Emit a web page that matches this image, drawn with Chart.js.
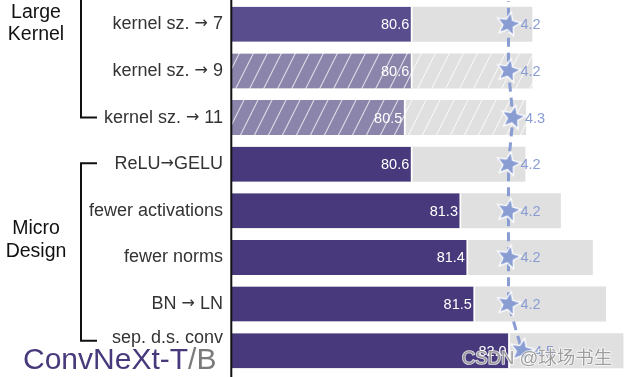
<!DOCTYPE html>
<html><head><meta charset="utf-8">
<script src="https://cdn.jsdelivr.net/npm/chart.js@4/dist/chart.umd.min.js"></script>
<style>html,body{margin:0;padding:0;background:#fff;overflow:hidden}</style>
</head><body>
<canvas id="c" width="629" height="377"></canvas>
<script>
// ---- data ----
const categories = ["kernel sz. \u2192 7","kernel sz. \u2192 9","kernel sz. \u2192 11","ReLU\u2192GELU","fewer activations","fewer norms","BN \u2192 LN","sep. d.s. conv"];
const groupNames = [["Large","Kernel"],["Micro","Design"]];
const accTiny = [80.6, 80.6, 80.5, 80.6, 81.3, 81.4, 81.5, 82.0];
const accBase = [82.32, 82.32, 82.23, 82.22, 82.73, 83.19, 83.38, 83.63];
const gflops = [4.2, 4.2, 4.3, 4.2, 4.2, 4.2, 4.2, 4.5];
const gflopsTrendTop = 4.2;   // dashed trend continuing above first row
const titleMain = "ConvNeXt-T";
const titleSub = "/B";
const watermark = "CSDN @\u7403\u573a\u4e66\u751f";

// ---- styles ----
const FONT = '"Liberation Sans", Arial, "Noto Sans CJK SC", sans-serif';
const ARROW_FONT = '"DejaVu Sans", sans-serif';
const PURPLE = '#47397b', PURPLE_HI = '#594d8d', PURPLE_HATCH = '#8b84ab';
const GREY = '#e0e0e0', STAR = '#8a9dd3';
const hatchedRows = [1, 2];

function hatch(bg) {
  const c = document.createElement('canvas'); c.width = 14; c.height = 28;
  const g = c.getContext('2d');
  g.fillStyle = bg; g.fillRect(0, 0, 14, 28);
  g.strokeStyle = 'rgba(255,255,255,0.7)'; g.lineWidth = 1.1;
  for (const dx of [-14, 0, 14]) { g.beginPath(); g.moveTo(dx, 28); g.lineTo(dx + 14, 0); g.stroke(); }
  return g.createPattern(c, 'repeat');
}
function starImage() {
  const c = document.createElement('canvas'); c.width = 30; c.height = 30;
  const g = c.getContext('2d');
  g.beginPath();
  for (let k = 0; k < 10; k++) {
    const r = k % 2 ? 5.6 : 12.5;
    const a = -Math.PI / 2 + k * Math.PI / 5;
    const px = 15 + r * Math.cos(a), py = 15 + r * Math.sin(a);
    k ? g.lineTo(px, py) : g.moveTo(px, py);
  }
  g.closePath();
  g.fillStyle = STAR; g.fill();
  g.strokeStyle = '#fff'; g.lineWidth = 1.3; g.stroke();
  return c;
}
const purpleHatch = hatch(PURPLE_HATCH), greyHatch = hatch(GREY), star = starImage();

const trendData = [{x: gflopsTrendTop, y: -1}].concat(gflops.map((v, i) => ({x: v, y: i})));

function drawLabel(ctx, text, right, y) {
  const parts = text.split('\u2192');
  const fText = '18px ' + FONT, fArr = '16px ' + ARROW_FONT;
  let total = 0;
  parts.forEach((p, k) => {
    ctx.font = fText; total += ctx.measureText(p).width;
    if (k < parts.length - 1) { ctx.font = fArr; total += ctx.measureText('\u2192').width; }
  });
  let x = right - total;
  ctx.textAlign = 'left';
  parts.forEach((p, k) => {
    ctx.font = fText; ctx.fillText(p, x, y); x += ctx.measureText(p).width;
    if (k < parts.length - 1) { ctx.font = fArr; ctx.fillText('\u2192', x, y); x += ctx.measureText('\u2192').width; }
  });
}

const decorations = {
  id: 'decorations',
  afterDatasetsDraw(chart) {
    const ctx = chart.ctx;
    ctx.save();
    const mT = chart.getDatasetMeta(1);
    ctx.font = '14.5px ' + FONT; ctx.fillStyle = '#fff';
    ctx.textAlign = 'right'; ctx.textBaseline = 'middle';
    mT.data.forEach((b, i) => ctx.fillText(accTiny[i].toFixed(1), b.x - 3.5, b.y + 1));
    const mL = chart.getDatasetMeta(0);
    ctx.fillStyle = STAR; ctx.textAlign = 'left';
    mL.data.forEach((p, i) => { if (i > 0) ctx.fillText(gflops[i - 1].toFixed(1), p.x + 12, p.y + 1); });
    ctx.restore();
  },
  afterDraw(chart) {
    const ctx = chart.ctx, ys = chart.scales.y;
    ctx.save();
    ctx.strokeStyle = '#111'; ctx.lineWidth = 2;
    ctx.beginPath(); ctx.moveTo(231.3, 0); ctx.lineTo(231.3, 377); ctx.stroke();
    ctx.fillStyle = '#333'; ctx.textBaseline = 'middle';
    const ly = i => ys.getPixelForValue(i) + (i === categories.length - 1 ? -13 : 0);
    categories.forEach((c, i) => drawLabel(ctx, c, 223, ly(i)));
    ctx.strokeStyle = '#111'; ctx.lineWidth = 2;
    ctx.beginPath();
    ctx.moveTo(81, -2); ctx.lineTo(81, ly(2)); ctx.lineTo(97, ly(2));
    ctx.moveTo(97, ly(3) - 1); ctx.lineTo(81, ly(3) - 1); ctx.lineTo(81, ly(7) + 3); ctx.lineTo(97, ly(7) + 3);
    ctx.stroke();
    ctx.font = '19.5px ' + FONT; ctx.fillStyle = '#111'; ctx.textAlign = 'center';
    ctx.fillText(groupNames[0][0], 36, 13); ctx.fillText(groupNames[0][1], 36, 35);
    ctx.fillText(groupNames[1][0], 36, 229); ctx.fillText(groupNames[1][1], 36, 252);
    ctx.font = '30px ' + FONT; ctx.textAlign = 'left'; ctx.textBaseline = 'alphabetic';
    ctx.fillStyle = PURPLE; ctx.fillText(titleMain, 23, 369);
    const w = ctx.measureText(titleMain).width;
    ctx.fillStyle = '#7a7a7a'; ctx.fillText(titleSub, 23 + w, 369);
    ctx.font = '18.5px ' + FONT;
    ctx.lineWidth = 1.6; ctx.strokeStyle = 'rgba(255,255,255,0.85)'; ctx.lineJoin = 'round';
    ctx.strokeText(watermark, 462, 364);
    ctx.fillStyle = 'rgba(135,135,135,0.8)'; ctx.fillText(watermark, 462, 364);
    ctx.restore();
  }
};

new Chart(document.getElementById('c'), {
  data: {
    labels: categories,
    datasets: [
      { type: 'line', label: 'GFLOPs', data: trendData, xAxisID: 'x2', yAxisID: 'yl', order: 0,
        borderColor: STAR, borderWidth: 3, borderDash: [9, 6], tension: 0, fill: false,
        pointStyle: star, pointRotation: 12,
        pointRadius: c => c.dataIndex === 0 ? 0 : 10 },
      { type: 'bar', label: 'ConvNeXt-T', data: accTiny, xAxisID: 'x', yAxisID: 'y', order: 1, grouped: false,
        backgroundColor: c => hatchedRows.includes(c.dataIndex) ? purpleHatch : (c.dataIndex === 0 ? PURPLE_HI : PURPLE),
        borderColor: '#fff', borderWidth: {top: 0, bottom: 0, left: 0, right: 2}, borderSkipped: false,
        barPercentage: 0.75, categoryPercentage: 1 },
      { type: 'bar', label: 'ConvNeXt-B', data: accBase, xAxisID: 'x', yAxisID: 'y', order: 2, grouped: false,
        backgroundColor: c => hatchedRows.includes(c.dataIndex) ? greyHatch : GREY,
        borderWidth: 0, barPercentage: 0.75, categoryPercentage: 1 }
    ]
  },
  options: {
    indexAxis: 'y', responsive: false, animation: false, devicePixelRatio: 1,
    layout: { autoPadding: false, padding: { left: 232, top: 1, bottom: 3, right: 0 } },
    plugins: { legend: { display: false }, tooltip: { enabled: false } },
    scales: {
      x: { type: 'linear', display: false, min: 78, max: 83.71 },
      x2: { type: 'linear', display: false, min: -1.944, max: 6.878 },
      y: { type: 'category', display: false, offset: true },
      yl: { type: 'linear', display: false, min: -0.5, max: 7.5, reverse: true }
    }
  },
  plugins: [decorations]
});
</script>
</body></html>
